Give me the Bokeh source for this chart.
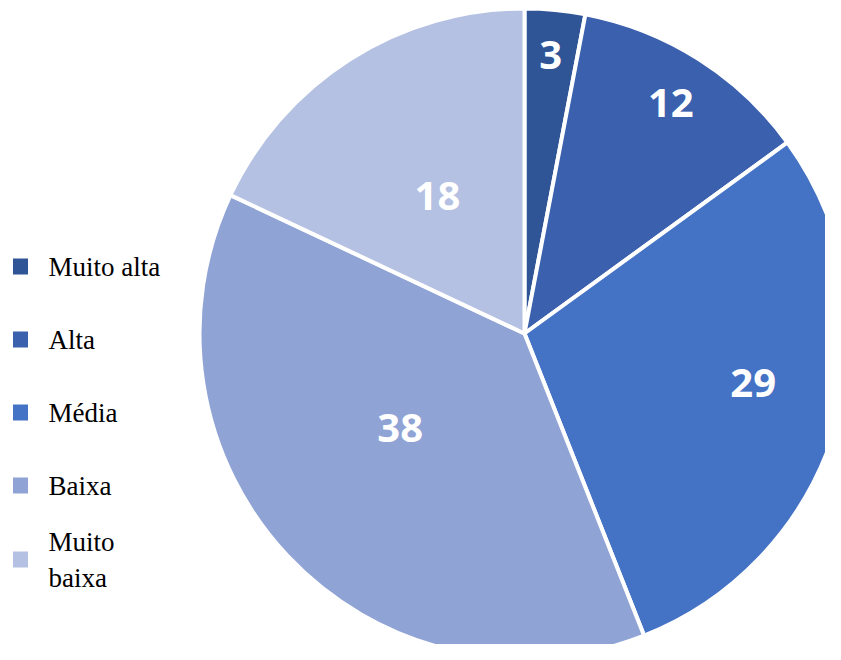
import math
from bokeh.plotting import figure
from bokeh.models import Range1d, ColumnDataSource
from bokeh.core.properties import value
from bokeh.embed import file_html
from bokeh.resources import INLINE

# ---- data ----
categories = ["Muito alta", "Alta", "Média", "Baixa", "Muito baixa"]
legend_labels = ["Muito alta", "Alta", "Média", "Baixa", "Muito\nbaixa"]
values = [3, 12, 29, 38, 18]
colors = ["#2F5597", "#3A60AE", "#4472C4", "#8FA3D5", "#B5C1E2"]

# label placement (fraction of radius, angle tweak in degrees)
label_r = [0.86, 0.84, 0.72, 0.48, 0.50]
label_dang = [0, 0, 4, -6, 0]

W, H = 825, 644
cx, cy, R = 524, -333, 325

p = figure(width=W, height=H, output_backend="svg", toolbar_location=None,
           x_range=Range1d(0, W), y_range=Range1d(-H, 0),
           x_axis_type=None, y_axis_type=None, min_border=0)
p.outline_line_color = None
p.grid.visible = False
p.background_fill_color = "white"

total = float(sum(values))
starts, ends, lx, ly = [], [], [], []
acc = 0.0
for i, v in enumerate(values):
    a0 = math.pi / 2 - 2 * math.pi * acc / total
    a1 = math.pi / 2 - 2 * math.pi * (acc + v) / total
    starts.append(a0)
    ends.append(a1)
    mid = (a0 + a1) / 2 + math.radians(label_dang[i])
    lx.append(cx + label_r[i] * R * math.cos(mid))
    ly.append(cy + label_r[i] * R * math.sin(mid))
    acc += v

src = ColumnDataSource(dict(start=starts, end=ends, color=colors,
                            lx=lx, ly=ly, txt=[str(v) for v in values]))
p.wedge(x=cx, y=cy, radius=R, start_angle="start", end_angle="end",
        direction="clock", fill_color="color", line_color="white",
        line_width=4, source=src)
p.text(x="lx", y="ly", text="txt", source=src, text_color="white",
       text_font=value("Open Sans"), text_font_style="bold",
       text_font_size="40px", text_align="center", text_baseline="middle")

# ---- legend ----
leg_y = [-(266 + 73 * i) for i in range(len(categories))]
leg_y[-1] = -559
lsrc = ColumnDataSource(dict(y=leg_y, color=colors, label=legend_labels))
p.rect(x=20, y="y", width=15, height=16, fill_color="color",
       line_color=None, source=lsrc)
p.text(x=48, y="y", text="label", source=lsrc, text_color="black",
       text_font=value("Liberation Serif"), text_font_size="27px",
       text_align="left", text_baseline="middle", text_line_height=1.2)

open("out.html", "w").write(file_html(p, INLINE))
